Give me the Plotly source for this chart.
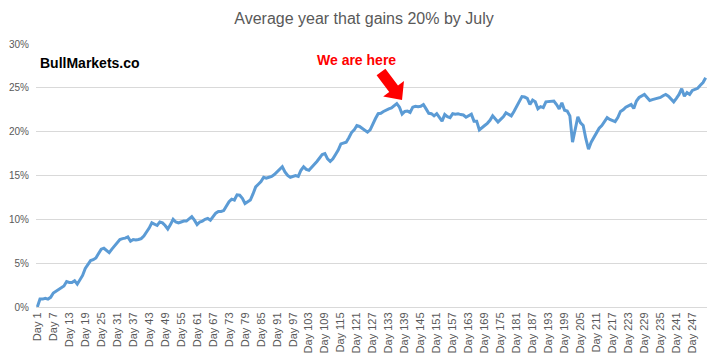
import plotly.graph_objects as go

days = list(range(1, 253))
values = [
    0.0, 0.9, 0.9, 1.0, 0.9, 1.1, 1.6, 1.8, 2.0, 2.3,
    2.4, 2.9, 2.8, 2.8, 3.0, 2.6, 3.1, 3.6, 4.4, 4.9,
    5.3, 5.4, 5.6, 6.1, 6.6, 6.7, 6.5, 6.2, 6.6, 7.0,
    7.4, 7.7, 7.8, 7.85, 8.0, 7.5, 7.7, 7.65, 7.7, 7.8,
    8.1, 8.5, 9.0, 9.6, 9.4, 9.3, 9.7, 9.6, 9.3, 8.9,
    9.4, 10.0, 9.7, 9.6, 9.7, 9.8, 9.8, 10.0, 10.3, 9.9,
    9.4, 9.7, 9.8, 10.0, 10.1, 9.9, 10.3, 10.7, 10.9, 10.9,
    11.0, 11.5, 12.0, 12.3, 12.2, 12.8, 12.75, 12.4, 11.8, 12.0,
    12.2, 12.9, 13.7, 14.0, 14.3, 14.8, 14.7, 14.8, 14.9, 15.1,
    15.4, 15.7, 16.0, 15.4, 15.0, 14.8, 14.9, 15.0, 14.9, 15.6,
    16.0, 15.7, 15.6, 15.9, 16.2, 16.6, 17.0, 17.4, 17.5, 16.9,
    16.6, 16.9, 17.4, 17.9, 18.6, 18.7, 18.8, 19.3, 19.9, 20.2,
    20.7, 20.6, 20.4, 20.2, 19.95, 20.2, 20.9, 21.5, 22.05, 22.1,
    22.3, 22.5, 22.6, 22.7, 23.0, 23.2, 22.8, 22.0, 22.3, 22.35,
    22.2, 22.8, 22.9, 22.85, 22.9, 23.1, 22.6, 22.1, 22.05, 21.8,
    22.05, 21.6, 21.2, 21.95, 21.7, 21.6, 22.05, 22.0, 22.05, 21.95,
    21.9, 21.65, 21.8, 22.0, 21.2, 21.2, 20.2, 20.5, 20.7, 20.95,
    21.3, 21.8, 21.4, 21.1, 21.4, 21.7, 22.15, 22.0, 21.8, 22.3,
    22.9, 23.5, 24.0, 23.95, 23.8, 23.1, 23.6, 23.4, 22.6, 22.85,
    22.75, 23.4, 23.45, 23.5, 23.5, 23.1, 22.6, 23.3, 22.45, 22.35,
    21.8, 18.8, 20.25, 21.7, 21.0, 20.7, 19.2, 18.0, 18.8, 19.3,
    19.8, 20.4, 20.7, 21.1, 21.6, 21.4, 21.3, 21.15, 21.6, 22.3,
    22.5, 22.8, 22.95, 23.1, 22.65, 23.5, 23.9, 24.1, 24.25, 23.9,
    23.55, 23.65, 23.75, 23.8, 23.9, 24.1, 24.25, 24.05, 23.7, 23.4,
    23.8, 24.25, 24.9, 24.05, 24.45, 24.25, 24.7, 24.85, 24.95, 25.3,
    25.6, 26.15,
]
tick_days = list(range(1, 253, 6))
tick_labels = [f"Day {d}" for d in tick_days]
y_ticks = [0, 5, 10, 15, 20, 25, 30]
y_tick_labels = [f"{v}%" for v in y_ticks]

# page body has an 8px default margin, so the figure starts at (8, 8)
OFF = 8
W, H = 720 - OFF, 361 - OFF
ML, MR, MT, MB = 36 - OFF, 13, 44 - OFF, 54
PW, PH = W - ML - MR, H - MT - MB


def px(x, y):
    # screen pixel -> paper coordinates
    return (x - OFF - ML) / PW, (H - MB - (y - OFF)) / PH


# block arrow outline in screen pixels (decoration)
arrow_px = [(385.4, 68.7), (398.0, 85.5), (404.0, 81.0), (402.0, 100.0),
            (383.2, 96.6), (389.2, 92.1), (376.6, 75.3)]
pts = [px(x, y) for x, y in arrow_px]
path = "M " + " L ".join(f"{a:.4f},{b:.4f}" for a, b in pts) + " Z"

fig = go.Figure(go.Scatter(
    x=days, y=values, mode="lines",
    line=dict(color="#5B9BD5", width=3), hoverinfo="skip",
))

fig.update_layout(
    width=W, height=H,
    margin=dict(l=ML, r=MR, t=MT, b=MB, autoexpand=False),
    paper_bgcolor="white", plot_bgcolor="white",
    showlegend=False,
    font=dict(family="Liberation Sans, Arial, sans-serif", color="#595959"),
    title=dict(text="Average year that gains 20% by July", x=0.5, xanchor="center",
               y=1 - (18 - OFF) / H, yanchor="middle",
               font=dict(size=16, color="#595959")),
    xaxis=dict(range=[0.5, 252.5], tickmode="array", tickvals=tick_days,
               ticktext=tick_labels, tickangle=-90, tickfont=dict(size=11, color="#595959"),
               showgrid=False, zeroline=False, showline=True, linecolor="#D9D9D9",
               linewidth=1, ticks="", automargin=False),
    yaxis=dict(range=[0, 30], tickmode="array", tickvals=y_ticks, ticktext=y_tick_labels,
               tickfont=dict(size=10, color="#595959"),
               showgrid=True, gridcolor="#D9D9D9", gridwidth=1,
               zeroline=False, showline=False, ticks="", ticklabelstandoff=6,
               automargin=False),
    shapes=[dict(type="path", xref="paper", yref="paper", path=path,
                 fillcolor="#FF0000", line=dict(width=0))],
    annotations=[
        dict(text="<b>BullMarkets.co</b>", xref="paper", yref="paper",
             x=px(38, 0)[0], y=px(0, 63)[1], xanchor="left", yanchor="middle",
             showarrow=False, font=dict(size=14, color="#000000")),
        dict(text="<b>We are here</b>", xref="paper", yref="paper",
             x=px(356, 0)[0], y=px(0, 60)[1], xanchor="center", yanchor="middle",
             showarrow=False, font=dict(size=14, color="#FF0000")),
    ],
)

fig.write_html("out.html")
